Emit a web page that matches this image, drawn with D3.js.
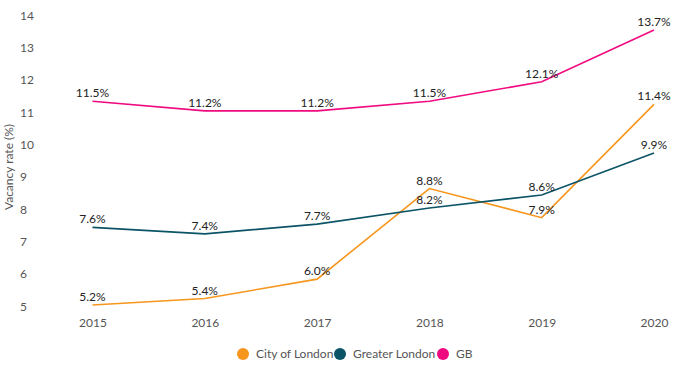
<!DOCTYPE html>
<html>
<head>
<meta charset="utf-8">
<script src="https://cdn.jsdelivr.net/npm/d3@7"></script>
<style>
  body { margin: 0; background: #fff; }
  svg { display: block; font-family: Lato, "Open Sans", sans-serif; }
</style>
</head>
<body>
<svg width="700" height="373"></svg>
<script>
// Data
var years = [2015, 2016, 2017, 2018, 2019, 2020];
var cityOfLondon = [5.2, 5.4, 6.0, 8.8, 7.9, 11.4];
var greaterLondon = [7.6, 7.4, 7.7, 8.2, 8.6, 9.9];
var gb = [11.5, 11.2, 11.2, 11.5, 12.1, 13.7];
var yTicks = [5, 6, 7, 8, 9, 10, 11, 12, 13, 14];

var series = [
  {name: "City of London", values: cityOfLondon, color: "#f7961d"},
  {name: "Greater London", values: greaterLondon, color: "#0b5366"},
  {name: "GB", values: gb, color: "#f00a80"}
];

var svg = d3.select("svg");

var x = d3.scalePoint()
  .domain(years)
  .range([92.5, 654]);

var y = d3.scaleLinear()
  .domain([5, 14])
  .range([311.5, 20.3]);

// y axis, labels left aligned
var yAxis = svg.append("g")
  .attr("transform", "translate(20,0)")
  .call(d3.axisLeft(y).tickValues(yTicks).tickSize(0).tickPadding(0).tickFormat(d3.format("d")));
yAxis.select(".domain").remove();
yAxis.selectAll("text")
  .attr("text-anchor", "start")
  .attr("x", 0)
  .attr("dy", "-0.1em")
  .attr("fill", "#555")
  .style("font-size", "12px")
  .style("font-family", "Lato, sans-serif");

// x axis
var xAxis = svg.append("g")
  .attr("transform", "translate(0,318)")
  .call(d3.axisBottom(x).tickSize(0).tickPadding(0));
xAxis.select(".domain").remove();
xAxis.selectAll("text")
  .attr("fill", "#555")
  .style("font-size", "12px")
  .style("font-family", "Lato, sans-serif");

// axis title
svg.append("text")
  .attr("transform", "translate(13,167) rotate(-90)")
  .attr("text-anchor", "middle")
  .attr("fill", "#555")
  .style("font-size", "12px")
  .text("Vacancy rate (%)");

// lines
var line = d3.line()
  .x(function(d, i) { return x(years[i]); })
  .y(function(d) { return y(d); });

series.forEach(function(s) {
  svg.append("path")
    .datum(s.values)
    .attr("fill", "none")
    .attr("stroke", s.color)
    .attr("stroke-width", 1.6)
    .attr("d", line);
});

// data labels
series.forEach(function(s) {
  svg.append("g").selectAll("text")
    .data(s.values)
    .enter()
    .append("text")
    .attr("x", function(d, i) { return x(years[i]); })
    .attr("y", function(d) { return y(d) - 4; })
    .attr("text-anchor", "middle")
    .attr("fill", "#222")
    .style("font-size", "12px")
    .text(function(d) { return d.toFixed(1) + "%"; });
});

// legend
var legendX = [243, 340, 443];
var legend = svg.append("g").selectAll("g")
  .data(series)
  .enter()
  .append("g")
  .attr("transform", function(d, i) { return "translate(" + legendX[i] + ",354)"; });
legend.append("circle")
  .attr("r", 6)
  .attr("fill", function(d) { return d.color; });
legend.append("text")
  .attr("x", 13)
  .attr("dy", "0.35em")
  .attr("fill", "#555")
  .style("font-size", "12px")
  .text(function(d) { return d.name; });
</script>
</body>
</html>
